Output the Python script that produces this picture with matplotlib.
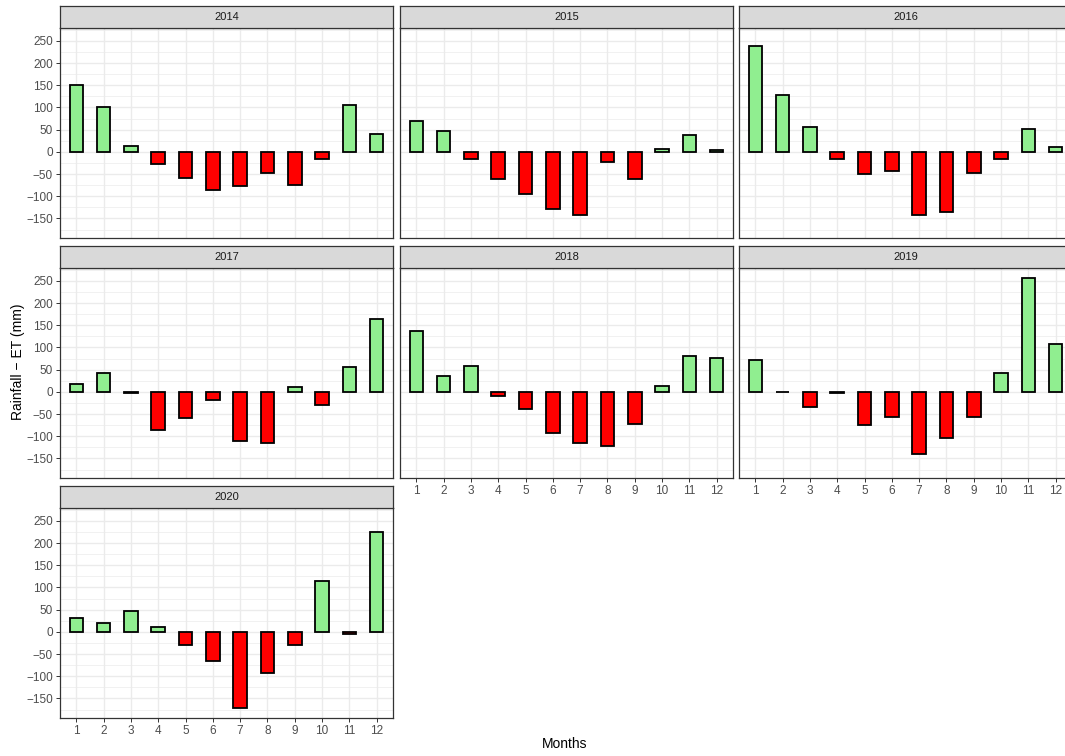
import matplotlib
matplotlib.use("Agg")
import matplotlib.pyplot as plt

plt.rcParams['font.family'] = ['Liberation Sans', 'DejaVu Sans']

months = [1, 2, 3, 4, 5, 6, 7, 8, 9, 10, 11, 12]
years = ["2014", "2015", "2016", "2017", "2018", "2019", "2020"]
v2014 = [150, 101, 13, -28, -58, -87, -76, -47, -74, -16, 106, 40]
v2015 = [70, 47, -17, -60, -96, -128, -143, -22, -62, 7, 38, 4]
v2016 = [239, 128, 56, -17, -49, -44, -143, -136, -47, -17, 52, 10]
v2017 = [17, 42, -3, -86, -59, -19, -111, -115, 10, -29, 55, 165]
v2018 = [138, 35, 59, -10, -39, -92, -115, -122, -73, 14, 81, 77]
v2019 = [71, -1, -34, -3, -74, -57, -140, -104, -56, 43, 257, 107]
v2020 = [32, 19, 48, 10, -29, -65, -172, -93, -29, 114, -5, 225]
values = [v2014, v2015, v2016, v2017, v2018, v2019, v2020]
yticks = [-150, -100, -50, 0, 50, 100, 150, 200, 250]
yminor = [-175, -125, -75, -25, 25, 75, 125, 175, 225, 275]

W, H = 1065, 756
fig = plt.figure(figsize=(W / 100, H / 100), dpi=100)

col_left = [60, 400, 739]
pw = 333
row_strip_top = [6, 246, 486]
strip_h = 22
ph = 210
dark = '#333333'

def fx(x):
    return x / W

def fy(y):
    return 1 - y / H

for i, (yr, vals) in enumerate(zip(years, values)):
    r, c = divmod(i, 3)
    x0 = col_left[c]
    st = row_strip_top[r]
    pt = st + strip_h
    ax = fig.add_axes([fx(x0), fy(pt + ph), pw / W, ph / H])
    ax.set_xlim(0.4, 12.6)
    ax.set_ylim(-194, 279)
    ax.set_facecolor('white')
    ax.set_yticks(yticks)
    ax.set_yticks(yminor, minor=True)
    ax.set_xticks(months)
    ax.grid(True, which='major', color='#EBEBEB', linewidth=1.0, zorder=0)
    ax.grid(True, which='minor', axis='y', color='#EBEBEB', linewidth=0.5, zorder=0)
    ax.set_axisbelow(True)
    colors = ['#90EE90' if v > 0 else '#FF0000' for v in vals]
    ax.bar(months, vals, width=0.5, color=colors, edgecolor='black', linewidth=1.3, zorder=3)
    for s in ax.spines.values():
        s.set_color(dark)
        s.set_linewidth(0.9)
    ax.tick_params(axis='both', which='major', length=3, width=0.7, color=dark,
                   labelsize=8.5, labelcolor='#4D4D4D', pad=2)
    ax.tick_params(axis='both', which='minor', length=0)
    show_y = (c == 0)
    show_x = (i >= 4)
    if not show_y:
        ax.tick_params(axis='y', which='both', left=False, labelleft=False)
    else:
        ax.set_yticklabels([str(t).replace('-', '\u2212') for t in yticks])
    if not show_x:
        ax.tick_params(axis='x', which='both', bottom=False, labelbottom=False)
    sax = fig.add_axes([fx(x0), fy(pt), pw / W, strip_h / H])
    sax.set_facecolor('#D9D9D9')
    sax.set_xticks([])
    sax.set_yticks([])
    for s in sax.spines.values():
        s.set_color(dark)
        s.set_linewidth(0.9)
    sax.text(0.5, 0.5, yr, ha='center', va='center', fontsize=8, color='#1A1A1A',
             transform=sax.transAxes)

fig.text(fx(18), fy(362), 'Rainfall \u2212 ET (mm)', rotation=90, ha='center', va='center',
         fontsize=10, color='black')
fig.text(fx(565), fy(744), 'Months', ha='center', va='center', fontsize=10, color='black')

fig.savefig('out.png', dpi=100, facecolor='white')
